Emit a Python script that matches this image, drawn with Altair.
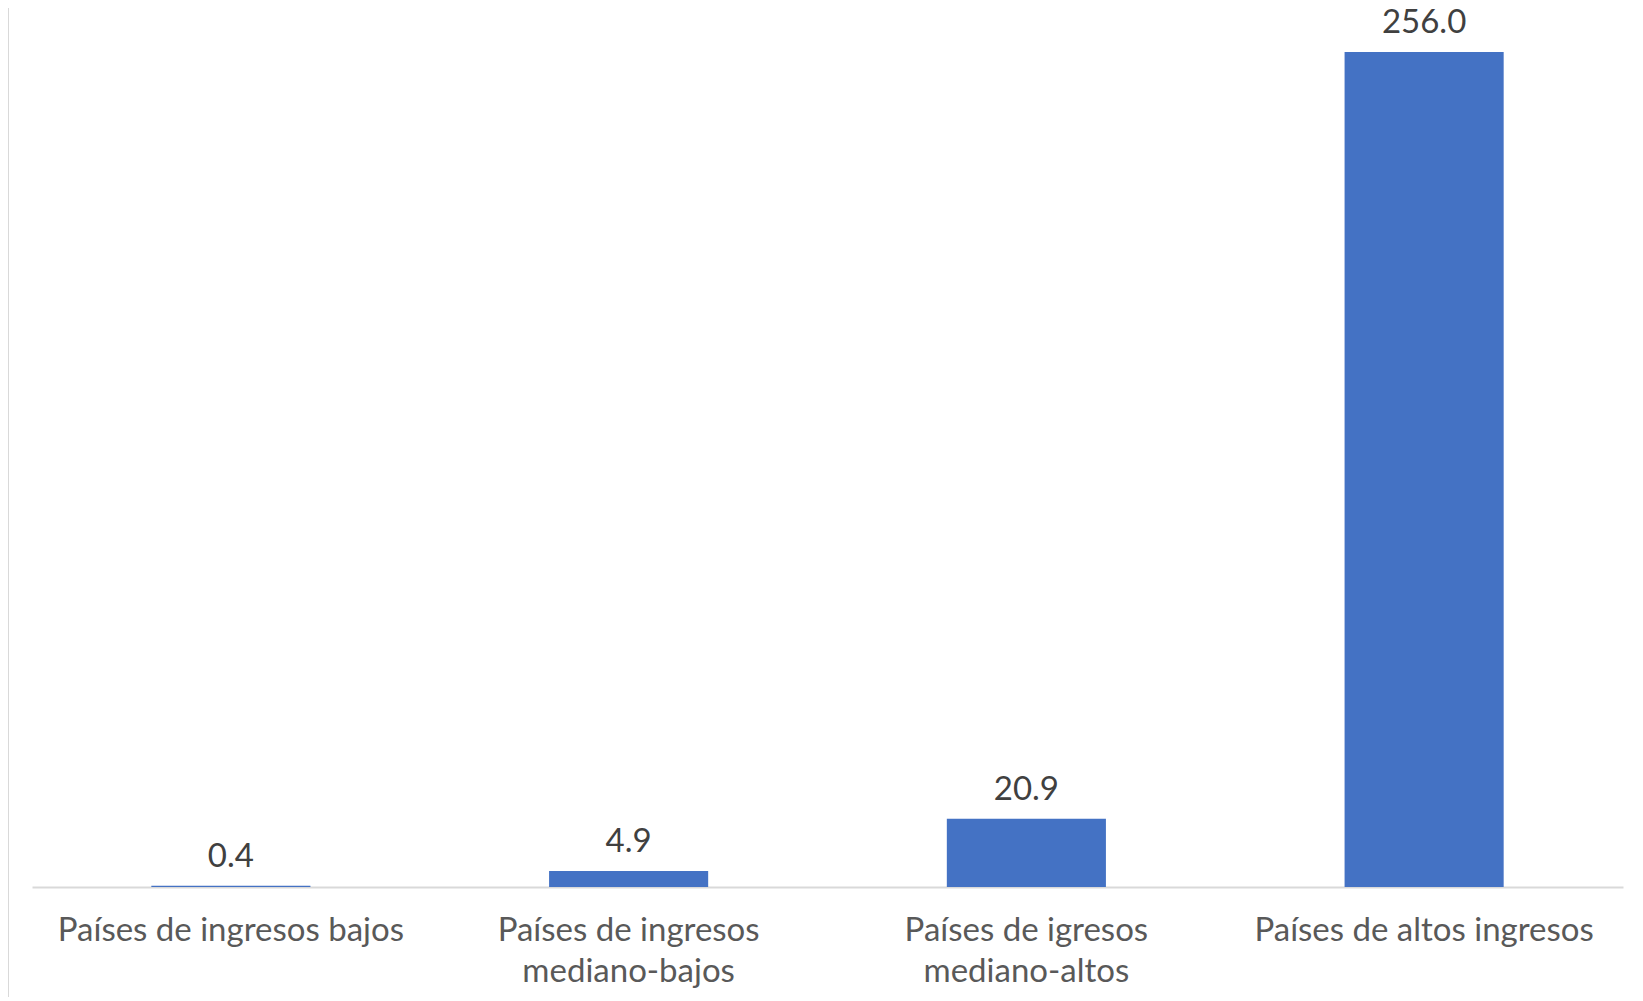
import altair as alt
import pandas as pd

categories = [
    "Países de ingresos bajos",
    "Países de ingresos\nmediano-bajos",
    "Países de igresos\nmediano-altos",
    "Países de altos ingresos",
]
values = [0.4, 4.9, 20.9, 256.0]
value_labels = ["0.4", "4.9", "20.9", "256.0"]

df = pd.DataFrame({"cat": categories, "val": values, "lab": value_labels})

FONT = "Lato"

x = alt.X(
    "cat:N",
    sort=None,
    scale=alt.Scale(paddingInner=0.6, paddingOuter=0.3),
    axis=alt.Axis(
        title=None,
        labelAngle=0,
        labelExpr="split(datum.label, '\\n')",
        labelFont=FONT,
        labelFontSize=33,
        labelColor="#595959",
        labelLineHeight=41,
        labelPadding=27,
        labelLimit=0,
        ticks=False,
        domainColor="#d9d9d9",
        domainWidth=2,
        grid=False,
    ),
)
y = alt.Y(
    "val:Q",
    scale=alt.Scale(domain=[0, 264.6], nice=False),
    axis=None,
)

bars = alt.Chart(df).mark_bar(color="#4472C4").encode(x=x, y=y)
texts = alt.Chart(df).mark_text(
    baseline="alphabetic", dy=-19, font=FONT, fontSize=33, color="#404040"
).encode(x=x, y=y, text="lab:N")

left_line = alt.Chart(df).mark_rule(color="#d9d9d9", strokeWidth=2).encode(
    x=alt.value(-24), y=alt.value(-24), y2=alt.value(990)
)

chart = (
    alt.layer(bars, texts, left_line)
    .properties(
        width=1591,
        height=863,
        background="white",
        autosize=alt.AutoSizeParams(type="none"),
        padding={"left": 24, "top": 16, "right": 12, "bottom": 110},
    )
    .configure_view(strokeWidth=0, stroke=None)
)

chart.save("out.html", embed_options={"renderer": "svg", "actions": False})
